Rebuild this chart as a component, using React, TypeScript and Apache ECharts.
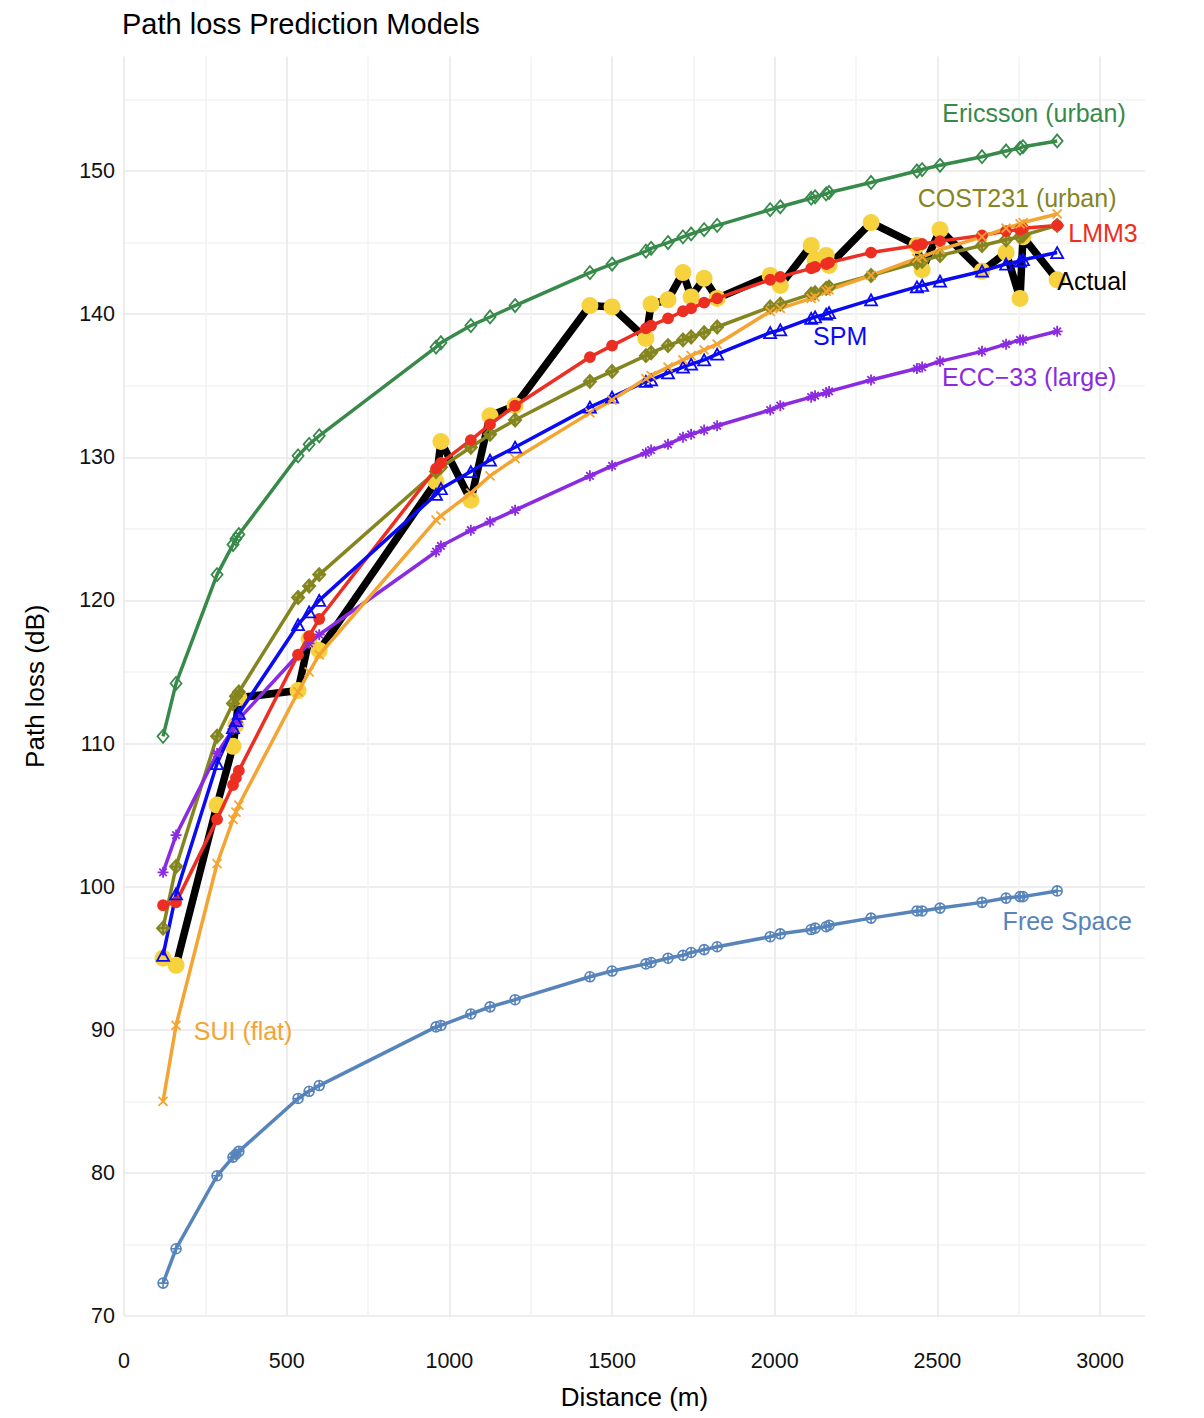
import React, { useEffect, useRef } from "react";
import * as echarts from "echarts";

const FONT = '"Liberation Sans", Arial, Helvetica, sans-serif';

const DISTANCE = [120, 160, 286, 335, 344, 353, 535, 569, 600, 959, 974, 1066, 1125, 1202, 1432, 1500, 1604, 1620, 1672, 1718, 1743, 1783, 1823, 1986, 2017, 2112, 2124, 2158, 2167, 2296, 2437, 2453, 2508, 2637, 2711, 2754, 2763, 2868];

const ACTUAL = [95.0, 94.5, 105.7, 109.8, 111.3, 113.2, 113.7, 117.3, 116.5, 128.3, 131.1, 127.0, 132.9, 133.6, 140.6, 140.5, 138.3, 140.7, 141.0, 142.9, 141.2, 142.5, 141.1, 142.7, 142.0, 144.8, 143.8, 144.1, 143.4, 146.4, 144.8, 143.1, 145.9, 143.0, 144.3, 141.1, 145.4, 142.4];

const ERICSSON = [110.5, 114.2, 121.8, 123.9, 124.3, 124.6, 130.1, 130.9, 131.5, 137.7, 138.0, 139.2, 139.8, 140.6, 142.9, 143.5, 144.4, 144.6, 145.0, 145.4, 145.6, 145.9, 146.2, 147.3, 147.5, 148.1, 148.2, 148.4, 148.5, 149.2, 150.0, 150.1, 150.4, 151.0, 151.4, 151.6, 151.7, 152.1];

const COST231 = [97.1, 101.4, 110.5, 112.8, 113.3, 113.6, 120.2, 121.0, 121.8, 129.0, 129.3, 130.7, 131.6, 132.6, 135.3, 136.0, 137.1, 137.3, 137.8, 138.2, 138.4, 138.7, 139.1, 140.5, 140.7, 141.4, 141.5, 141.8, 141.9, 142.7, 143.6, 143.7, 144.1, 144.8, 145.2, 145.4, 145.5, 146.2];

const LMM3 = [98.7, 98.9, 104.7, 107.1, 107.6, 108.1, 116.2, 117.5, 118.7, 129.2, 129.6, 131.2, 132.3, 133.6, 137.0, 137.8, 139.0, 139.2, 139.7, 140.2, 140.4, 140.8, 141.1, 142.4, 142.6, 143.2, 143.3, 143.5, 143.6, 144.3, 144.8, 144.9, 145.1, 145.5, 145.8, 145.9, 146.0, 146.2];

const SPM = [95.2, 99.5, 108.6, 111.1, 111.6, 112.1, 118.3, 119.2, 120.0, 127.4, 127.8, 129.0, 129.8, 130.7, 133.5, 134.2, 135.3, 135.4, 135.9, 136.3, 136.5, 136.8, 137.2, 138.7, 138.9, 139.7, 139.8, 140.0, 140.1, 141.0, 141.9, 142.0, 142.3, 143.0, 143.5, 143.7, 143.8, 144.3];

const SUI = [85.0, 90.3, 101.6, 104.7, 105.2, 105.7, 113.6, 115.0, 116.2, 125.6, 125.9, 127.5, 128.7, 129.9, 133.1, 134.0, 135.5, 135.7, 136.3, 136.8, 137.1, 137.5, 137.9, 140.2, 140.4, 141.1, 141.2, 141.6, 141.7, 142.7, 143.9, 144.0, 144.5, 145.4, 146.0, 146.3, 146.4, 147.0];

const ECC33 = [101.0, 103.6, 109.3, 111.0, 111.4, 111.7, 116.2, 117.0, 117.6, 123.4, 123.8, 124.9, 125.5, 126.3, 128.7, 129.4, 130.3, 130.5, 130.9, 131.4, 131.6, 131.9, 132.2, 133.3, 133.6, 134.2, 134.3, 134.5, 134.6, 135.4, 136.2, 136.3, 136.7, 137.4, 137.9, 138.2, 138.2, 138.8];

const FREE_SPACE = [72.3, 74.7, 79.8, 81.1, 81.3, 81.5, 85.2, 85.7, 86.1, 90.2, 90.3, 91.1, 91.6, 92.1, 93.7, 94.1, 94.6, 94.7, 95.0, 95.2, 95.4, 95.6, 95.8, 96.5, 96.7, 97.0, 97.1, 97.2, 97.3, 97.8, 98.3, 98.3, 98.5, 98.9, 99.2, 99.3, 99.3, 99.7];

const X_TICKS = [0, 500, 1000, 1500, 2000, 2500, 3000];
const Y_TICKS = [70, 80, 90, 100, 110, 120, 130, 140, 150];

const LABEL_TEXT = ["Ericsson (urban)", "COST231 (urban)", "LMM3", "Actual", "SPM", "ECC\u221233 (large)", "Free Space", "SUI (flat)"];
const LABEL_X = [2797, 2745, 3009, 2975, 2201, 2782, 2899, 366];
const LABEL_Y = [154.05, 148.1, 145.7, 142.3, 138.5, 135.6, 97.6, 89.9];

const C_ERICSSON = "#378A4A";
const C_COST = "#85851F";
const C_LMM3 = "#EC2F22";
const C_SPM = "#0A0AF5";
const C_ECC = "#8A2BE2";
const C_FREE = "#5784BA";
const C_SUI = "#F4A432";
const C_GOLD = "#F6D23F";
const LABEL_COLORS = [C_ERICSSON, C_COST, C_LMM3, "#000000", C_SPM, C_ECC, C_FREE, C_SUI];

const SYM_X = "path://M0,0L10,10M10,0L0,10";
const SYM_AST = "path://M5,0L5,10M0,5L10,5M1.6,1.6L8.4,8.4M8.4,1.6L1.6,8.4";
const SYM_CPLUS = "path://M0,5A5,5,0,1,1,10,5A5,5,0,1,1,0,5ZM5,0L5,10M0,5L10,5";
const SYM_DIAMOND = "path://M5,0L10,6L5,12L0,6Z";
const SYM_DPLUS = "path://M5,0L10,6L5,12L0,6ZM5,0L5,12M0,6L10,6";
const SYM_TRI = "path://M5,0L10,9L0,9Z";

function pairs(vals: number[]) {
  return DISTANCE.map((d, i) => [d, vals[i]]);
}

function model(name: string, vals: number[], color: string, symbol: string, size: number | number[], fill: string, bw: number) {
  return {
    name,
    type: "line",
    data: pairs(vals),
    symbol,
    symbolSize: size,
    showSymbol: true,
    showAllSymbol: true,
    lineStyle: { color, width: 3.5 },
    itemStyle: { color: fill, borderColor: color, borderWidth: bw },
    emphasis: { disabled: true },
    z: 3,
  };
}

export default function App() {
  const ref = useRef<HTMLDivElement>(null);
  useEffect(() => {
    if (!ref.current) return;
    const chart = echarts.init(ref.current, null, { renderer: "svg" });
    const gridColors = ["#E9E9E9", "#F3F3F3"];
    const option: any = {
      animation: false,
      backgroundColor: "#ffffff",
      textStyle: { fontFamily: FONT },
      title: {
        text: "Path loss Prediction Models",
        left: 122,
        top: 9,
        padding: 0,
        textStyle: { fontSize: 29, fontWeight: "normal", color: "#000", fontFamily: FONT },
      },
      grid: { left: 124, right: 59, top: 56.5, bottom: 102, containLabel: false },
      xAxis: {
        type: "value",
        min: 0,
        max: 3138,
        interval: 250,
        name: "Distance (m)",
        nameLocation: "middle",
        nameGap: 68,
        nameTextStyle: { fontSize: 26, color: "#000", fontFamily: FONT },
        axisLine: { show: false },
        axisTick: { show: false },
        axisLabel: {
          interval: 0,
          margin: 34,
          fontSize: 21.5,
          color: "#111",
          fontFamily: FONT,
          formatter: (v: number) => (X_TICKS.indexOf(v) >= 0 ? String(v) : ""),
        },
        splitLine: { show: true, showMaxLine: false, lineStyle: { color: gridColors, width: 1.6 } },
      },
      yAxis: {
        type: "value",
        min: 70,
        max: 158,
        interval: 5,
        name: "Path loss (dB)",
        nameLocation: "middle",
        nameGap: 76,
        nameTextStyle: { fontSize: 26, color: "#000", fontFamily: FONT },
        axisLine: { show: false },
        axisTick: { show: false },
        axisLabel: {
          interval: 0,
          margin: 9,
          fontSize: 21.5,
          color: "#111",
          fontFamily: FONT,
          formatter: (v: number) => (Y_TICKS.indexOf(v) >= 0 ? String(v) : ""),
        },
        splitLine: { show: true, showMaxLine: false, lineStyle: { color: gridColors, width: 1.6 } },
      },
      series: [
        {
          name: "Actual",
          type: "line",
          data: pairs(ACTUAL),
          symbol: "circle",
          symbolSize: 17,
          showSymbol: true,
          showAllSymbol: true,
          lineStyle: { color: "#000", width: 7.5 },
          itemStyle: { color: C_GOLD, borderWidth: 0 },
          emphasis: { disabled: true },
          z: 2,
        },
        model("COST231 (urban)", COST231, C_COST, SYM_DPLUS, [12, 13], "rgba(133,133,31,0.55)", 2),
        model("Ericsson (urban)", ERICSSON, C_ERICSSON, SYM_DIAMOND, [11, 13], "rgba(255,255,255,0)", 1.8),
        model("ECC-33 (large)", ECC33, C_ECC, SYM_AST, 11, "rgba(255,255,255,0)", 1.8),
        model("Free Space", FREE_SPACE, C_FREE, SYM_CPLUS, 10, "rgba(255,255,255,0)", 1.6),
        model("LMM3", LMM3, C_LMM3, SYM_CPLUS, 10, C_LMM3, 1.8),
        model("SPM", SPM, C_SPM, SYM_TRI, [12, 11], "rgba(255,255,255,0)", 1.8),
        model("SUI (flat)", SUI, C_SUI, SYM_X, 9, "rgba(255,255,255,0)", 1.8),
        {
          name: "labels",
          type: "scatter",
          silent: true,
          symbolSize: 1,
          itemStyle: { color: "rgba(0,0,0,0)" },
          z: 10,
          label: {
            show: true,
            position: "inside",
            fontSize: 25,
            fontFamily: FONT,
            textBorderWidth: 0,
            textBorderColor: "transparent",
            opacity: 1,
          },
          data: LABEL_TEXT.map((t, i) => ({
            value: [LABEL_X[i], LABEL_Y[i]],
            label: { formatter: t, color: LABEL_COLORS[i] },
          })),
        },
      ],
    };
    chart.setOption(option);
    return () => chart.dispose();
  }, []);
  return (
    <div
      ref={ref}
      style={{ position: "fixed", left: 0, top: 0, width: 1204, height: 1418, background: "#fff" }}
    />
  );
}
